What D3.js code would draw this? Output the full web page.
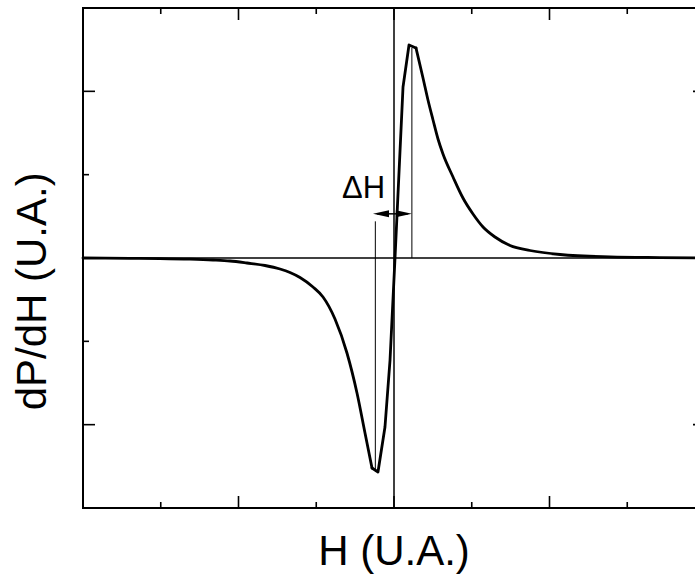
<!DOCTYPE html>
<html>
<head>
<meta charset="utf-8">
<script src="https://cdn.jsdelivr.net/npm/d3@7"></script>
<style>
  body { margin: 0; background: #fff; }
  svg { display: block; font-family: "Liberation Sans", Arial, sans-serif; }
</style>
</head>
<body>
<svg class="svg"></svg>
<script>
// field values (arbitrary units)
let hValues = [-4.000, -3.396, -3.010, -2.624, -2.328, -2.109, -1.891, -1.659, -1.466, -1.338, -1.209, -1.042, -0.913, -0.759,
               -0.605, -0.476, -0.373, -0.283, -0.206, -0.116, -0.051, 0.013, 0.116, 0.193, 0.283, 0.373, 0.437, 0.502,
               0.566, 0.630, 0.759, 0.887, 1.016, 1.145, 1.299, 1.492, 1.749, 2.135, 2.778, 3.421, 4.000]
let dpdhValues = [0.000, -0.004, -0.007, -0.014, -0.024, -0.036, -0.060, -0.090, -0.132, -0.174, -0.234, -0.348, -0.468, -0.732,
                  -1.140, -1.620, -2.100, -2.520, -2.568, -2.028, -1.224, 0.000, 2.052, 2.556, 2.520, 2.160, 1.896, 1.656,
                  1.428, 1.248, 0.972, 0.720, 0.528, 0.372, 0.252, 0.150, 0.090, 0.042, 0.014, 0.005, 0.000]

let xMajor = [-4, -2, 0, 2, 4]
let xMinor = [-3, -1, 1, 3]
let yMajor = [-2, 0, 2]
let yMinor = [-3, -1, 1, 3]

// peak-to-peak markers
let hLow = -0.24, hHigh = 0.23
let lowTop = 0.44, lowBottom = -2.55
let highTop = 2.52
let arrowLeft = -0.27, arrowY = 0.53

let width = 695, height = 577
let svg = d3.select(".svg").attr("width", width).attr("height", height)

let x = d3.scaleLinear().domain([-4, 4]).range([83, 705])
let y = d3.scaleLinear().domain([-3, 3]).range([508, 8])

let frame = svg.append("g")

// ticks, all pointing inward
let tick = (vals, len) => {
    vals.forEach(v => {
        frame.append("line").attr("x1", x(v)).attr("x2", x(v)).attr("y1", y(3)).attr("y2", y(3) + len)
        frame.append("line").attr("x1", x(v)).attr("x2", x(v)).attr("y1", y(-3)).attr("y2", y(-3) - len)
    })
}
let ytick = (vals, len) => {
    vals.forEach(v => {
        frame.append("line").attr("y1", y(v)).attr("y2", y(v)).attr("x1", x(-4)).attr("x2", x(-4) + len)
        frame.append("line").attr("y1", y(v)).attr("y2", y(v)).attr("x1", x(4)).attr("x2", x(4) - len)
    })
}
tick(xMajor, 12)
tick(xMinor, 6)
ytick(yMajor, 12)
ytick(yMinor, 6)
frame.selectAll("line").attr("stroke", "#000").attr("stroke-width", 1.6)

frame.append("rect")
    .attr("x", x(-4)).attr("y", y(3))
    .attr("width", x(4) - x(-4)).attr("height", y(-3) - y(3))
    .attr("fill", "none").attr("stroke", "#000").attr("stroke-width", 2)

// zero lines
svg.append("line").attr("x1", x(-4)).attr("x2", x(4)).attr("y1", y(0)).attr("y2", y(0))
    .attr("stroke", "#000").attr("stroke-width", 1.5)
svg.append("line").attr("x1", x(0)).attr("x2", x(0)).attr("y1", y(3)).attr("y2", y(-3))
    .attr("stroke", "#000").attr("stroke-width", 1.5)

// marker lines
svg.append("line").attr("x1", x(hLow)).attr("x2", x(hLow)).attr("y1", y(lowTop)).attr("y2", y(lowBottom))
    .attr("stroke", "#000").attr("stroke-width", 1)
svg.append("line").attr("x1", x(hHigh)).attr("x2", x(hHigh)).attr("y1", y(highTop)).attr("y2", y(0))
    .attr("stroke", "#000").attr("stroke-width", 1)

// double arrow
let ax1 = x(arrowLeft), ax2 = x(hHigh), ay = y(arrowY)
svg.append("line").attr("x1", ax1 + 4).attr("x2", ax2 - 4).attr("y1", ay).attr("y2", ay)
    .attr("stroke", "#000").attr("stroke-width", 1.5)
svg.append("path").attr("d", `M${ax1},${ay} L${ax1 + 16},${ay - 3.5} L${ax1 + 16},${ay + 3.5} Z`).attr("fill", "#000")
svg.append("path").attr("d", `M${ax2},${ay} L${ax2 - 16},${ay - 3.5} L${ax2 - 16},${ay + 3.5} Z`).attr("fill", "#000")

svg.append("text")
    .attr("x", x(arrowLeft) - 31).attr("y", y(arrowY) - 16)
    .attr("font-size", 31)
    .text("ΔH")

// the curve: smooth tails, straight segments through the sharp core
let pts = hValues.map((h, i) => [h, dpdhValues[i]])
let trough = 17, peak = 24
let smooth = d3.line().x(d => x(d[0])).y(d => y(d[1])).curve(d3.curveMonotoneX)
let straight = d3.line().x(d => x(d[0])).y(d => y(d[1]))
let parts = [[pts.slice(0, trough + 1), smooth], [pts.slice(trough, peak + 1), straight], [pts.slice(peak), smooth]]
parts.forEach(p => {
    svg.append("path")
        .datum(p[0])
        .attr("d", p[1])
        .attr("fill", "none")
        .attr("stroke", "#000")
        .attr("stroke-width", 2.8)
        .attr("stroke-linejoin", "round")
        .attr("stroke-linecap", "round")
})

// axis titles
svg.append("text")
    .attr("x", x(0)).attr("y", 565)
    .attr("text-anchor", "middle")
    .attr("font-size", 42)
    .text("H (U.A.)")

svg.append("text")
    .attr("transform", `translate(46,${y(-0.4)}) rotate(-90)`)
    .attr("text-anchor", "middle")
    .attr("font-size", 42)
    .text("dP/dH (U.A.)")
</script>
</body>
</html>
